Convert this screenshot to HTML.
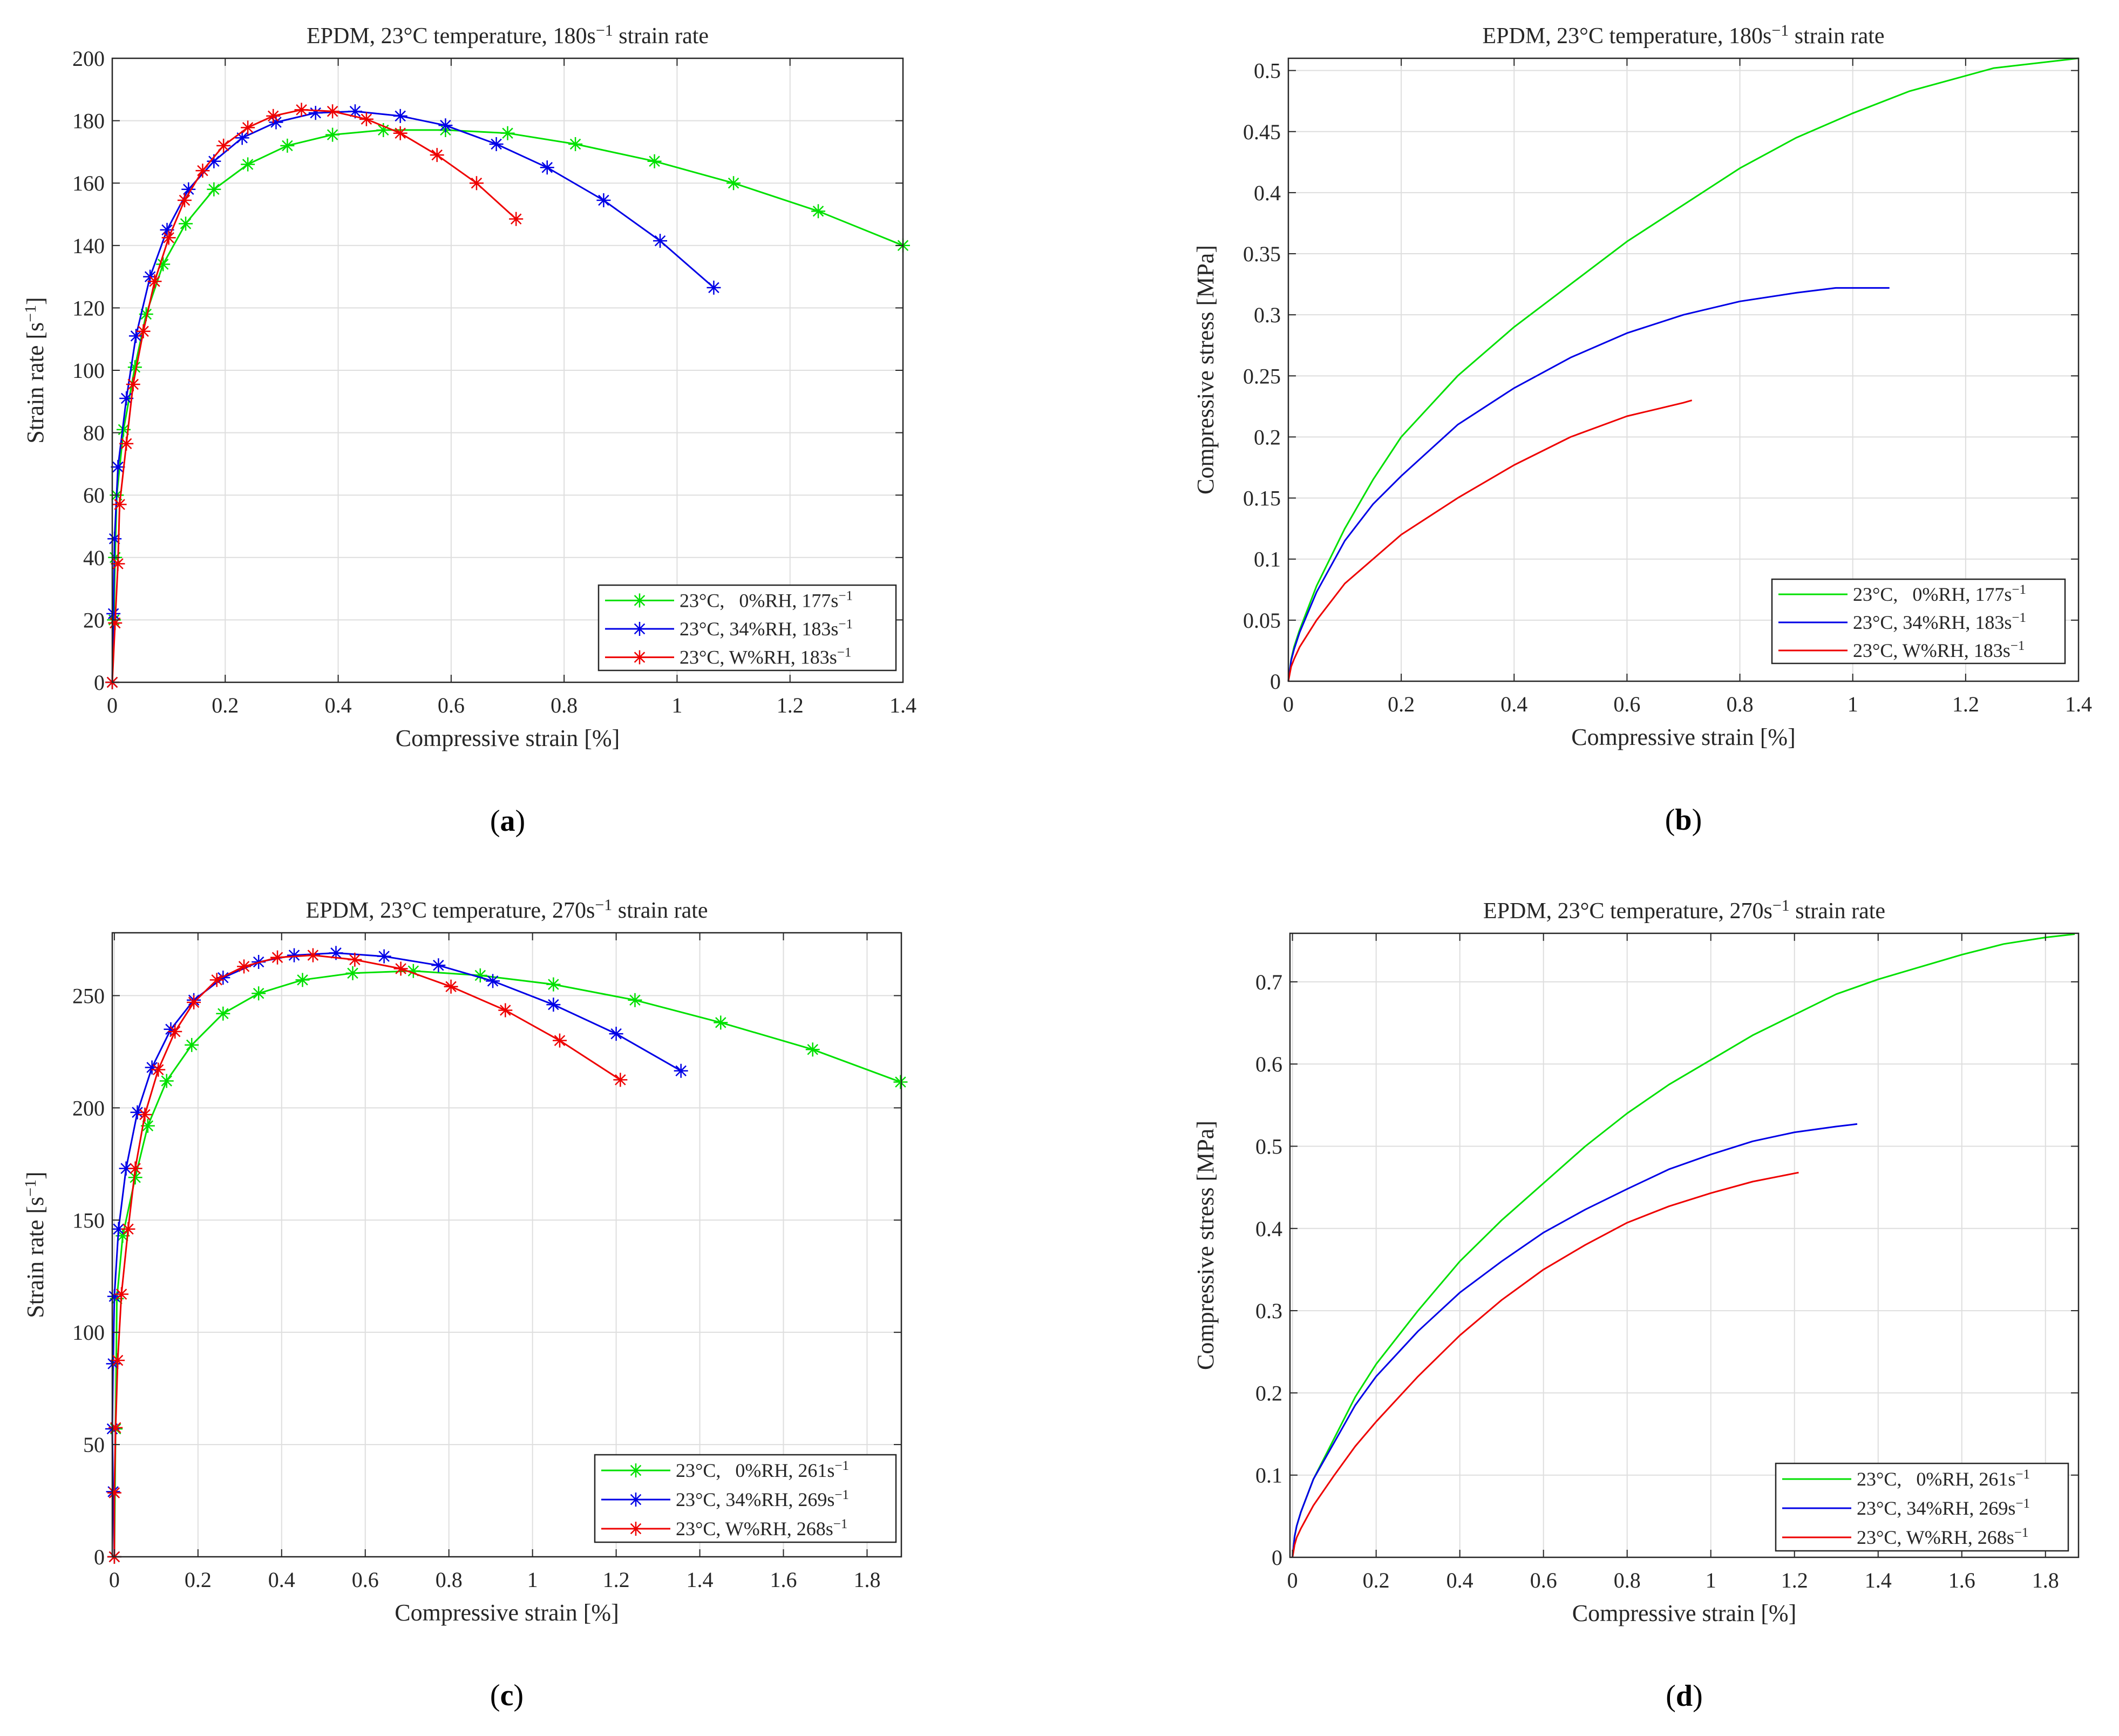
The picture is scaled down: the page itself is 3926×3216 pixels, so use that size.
<!DOCTYPE html>
<html><head><meta charset="utf-8"><style>
html,body{margin:0;padding:0;background:#fff;}
svg{display:block;font-family:"Liberation Serif",serif;}
</style></head><body>
<svg id="fig" width="3926" height="3216" viewBox="0 0 3926 3216" xmlns="http://www.w3.org/2000/svg"></svg>
<script>
// ---------- Data ----------
const aGreenX=[0,0.003,0.005,0.008,0.02,0.04,0.06,0.09,0.13,0.18,0.24,0.31,0.39,0.48,0.59,0.7,0.82,0.96,1.10,1.25,1.4];
const aGreenY=[0,20,40,60,81,101,118,134,147,158,166,172,175.5,177,177,176,172.5,167,160,151,140];
const aBlueX=[0,0.002,0.004,0.01,0.025,0.042,0.067,0.097,0.135,0.18,0.23,0.29,0.36,0.43,0.51,0.59,0.68,0.77,0.87,0.97,1.065];
const aBlueY=[0,22,46,69,91,111,130,145,158,167,174.5,179.5,182.5,183,181.5,178.5,172.5,165,154.5,141.5,126.5];
const aRedX=[0,0.005,0.01,0.013,0.025,0.037,0.055,0.075,0.1,0.128,0.16,0.197,0.24,0.285,0.335,0.39,0.45,0.51,0.575,0.645,0.715];
const aRedY=[0,19,38,57,76.5,95.5,112.5,128.5,142.5,154.5,164,172,177.8,181.5,183.5,183,180.5,176,169,160,148.5];
const bGreenX=[0,0.005,0.01,0.02,0.05,0.1,0.15,0.2,0.3,0.4,0.5,0.6,0.7,0.8,0.9,1.0,1.1,1.25,1.4];
const bGreenY=[0,0.018,0.028,0.042,0.078,0.125,0.165,0.2,0.25,0.29,0.325,0.36,0.39,0.42,0.445,0.465,0.483,0.502,0.51];
const bBlueX=[0,0.005,0.01,0.02,0.05,0.1,0.15,0.2,0.3,0.4,0.5,0.6,0.7,0.8,0.9,0.97,1.065];
const bBlueY=[0,0.017,0.026,0.04,0.073,0.115,0.145,0.168,0.21,0.24,0.265,0.285,0.3,0.311,0.318,0.322,0.322];
const bRedX=[0,0.005,0.01,0.02,0.05,0.1,0.15,0.2,0.3,0.4,0.5,0.6,0.7,0.715];
const bRedY=[0,0.012,0.018,0.028,0.05,0.08,0.1,0.12,0.15,0.177,0.2,0.217,0.228,0.23];
const cGreenX=[0,0.003,0.006,0.02,0.05,0.08,0.125,0.185,0.26,0.345,0.45,0.57,0.715,0.875,1.05,1.245,1.45,1.67,1.88];
const cGreenY=[0,57,115,143,169,192,212,228,242,251,257,260,261,259,255,248,238,226,211.5];
const cBlueX=[0,-0.003,-0.005,-0.003,0,0.01,0.028,0.055,0.09,0.135,0.19,0.26,0.345,0.43,0.53,0.645,0.775,0.905,1.05,1.2,1.355];
const cBlueY=[0,29,57,86,116,146,173,198,218,235,248,258,265,268,269,267.5,263.5,256.5,246,233,216.5];
const cRedX=[0,0,0.003,0.008,0.017,0.033,0.05,0.073,0.105,0.145,0.19,0.245,0.31,0.39,0.475,0.575,0.685,0.805,0.935,1.065,1.21];
const cRedY=[0,28.5,57.5,87.5,117,146,173,197,217,234,247,257,263,267,268,266,262,254,243.5,230,212.5];
const dGreenX=[0,0.005,0.01,0.02,0.05,0.1,0.15,0.2,0.3,0.4,0.5,0.6,0.7,0.8,0.9,1.0,1.1,1.2,1.3,1.4,1.5,1.6,1.7,1.8,1.87];
const dGreenY=[0,0.025,0.038,0.055,0.095,0.145,0.195,0.235,0.3,0.36,0.41,0.455,0.5,0.54,0.575,0.605,0.635,0.66,0.685,0.703,0.718,0.733,0.746,0.754,0.758];
const dBlueX=[0,0.005,0.01,0.02,0.05,0.1,0.15,0.2,0.3,0.4,0.5,0.6,0.7,0.8,0.9,1.0,1.1,1.2,1.3,1.35];
const dBlueY=[0,0.025,0.038,0.055,0.095,0.14,0.185,0.22,0.275,0.322,0.36,0.395,0.423,0.448,0.472,0.49,0.506,0.517,0.524,0.527];
const dRedX=[0,0.005,0.01,0.02,0.05,0.1,0.15,0.2,0.3,0.4,0.5,0.6,0.7,0.8,0.9,1.0,1.1,1.2,1.21];
const dRedY=[0,0.015,0.024,0.035,0.063,0.1,0.135,0.165,0.22,0.27,0.313,0.35,0.38,0.407,0.427,0.443,0.457,0.467,0.468];
const xTicksA=[0,0.2,0.4,0.6,0.8,1,1.2,1.4];
const yTicksA=[0,20,40,60,80,100,120,140,160,180,200];
const yTicksB=[0,0.05,0.1,0.15,0.2,0.25,0.3,0.35,0.4,0.45,0.5];
const xTicksC=[0,0.2,0.4,0.6,0.8,1,1.2,1.4,1.6,1.8];
const yTicksC=[0,50,100,150,200,250];
const yTicksD=[0,0.1,0.2,0.3,0.4,0.5,0.6,0.7];
const legendA=["0%RH, 177","34%RH, 183","W%RH, 183"];
const legendC=["0%RH, 261","34%RH, 269","W%RH, 268"];

const NS="http://www.w3.org/2000/svg";
const fig=document.getElementById('fig');
function mk(tag,attrs,parent){const e=document.createElementNS(NS,tag);for(const k in attrs)e.setAttribute(k,attrs[k]);(parent||fig).appendChild(e);return e;}
const COLORS=["#00e000","#0000e6","#ee0000"];
const SNAMES=["green","blue","red"];

function panel(p){
  const g=mk('g',{});
  
  
  const sx=v=>p.L+(v-p.x0)/(p.x1-p.x0)*(p.R-p.L);
  const sy=v=>p.B-(v-p.y0)/(p.y1-p.y0)*(p.B-p.T);
  p.xt.forEach(t=>{const l=mk('line',{x1:sx(t),x2:sx(t),y1:p.T,y2:p.B,stroke:'#dedede','stroke-width':2},g);
    });
  p.yt.forEach(t=>{const l=mk('line',{x1:p.L,x2:p.R,y1:sy(t),y2:sy(t),stroke:'#dedede','stroke-width':2},g);
    });
  p.series.forEach((s,i)=>{
    const sg=mk('g',{},g);
    
    
    const d=s[0].map((x,k)=>(k?'L':'M')+sx(x).toFixed(1)+' '+sy(s[1][k]).toFixed(1)).join(' ');
    const pl=mk('path',{d:d,fill:'none',stroke:COLORS[i],'stroke-width':3,'stroke-linejoin':'round'},sg);
    
    if(p.markers){s[0].forEach((x,k)=>{star(sg,sx(x),sy(s[1][k]),COLORS[i]);});}
  });
  const bx=mk('rect',{x:p.L,y:p.T,width:p.R-p.L,height:p.B-p.T,fill:'none',stroke:'#262626','stroke-width':2.5},g);
  
  p.xt.forEach(t=>{
    mk('line',{x1:sx(t),x2:sx(t),y1:p.B,y2:p.B-14,stroke:'#262626','stroke-width':2},g);
    mk('line',{x1:sx(t),x2:sx(t),y1:p.T,y2:p.T+14,stroke:'#262626','stroke-width':2},g);
    const tx=mk('text',{x:sx(t),y:p.B+56,'font-size':40,'text-anchor':'middle',fill:'#262626'},g);
    tx.textContent=String(t);
    
  });
  p.yt.forEach(t=>{
    mk('line',{x1:p.L,x2:p.L+14,y1:sy(t),y2:sy(t),stroke:'#262626','stroke-width':2},g);
    mk('line',{x1:p.R,x2:p.R-14,y1:sy(t),y2:sy(t),stroke:'#262626','stroke-width':2},g);
    const tx=mk('text',{x:p.L-14,y:sy(t)+14,'font-size':40,'text-anchor':'end',fill:'#262626'},g);
    tx.textContent=String(t);
    
  });
  const cx=(p.L+p.R)/2;
  const ti=mk('text',{x:cx,y:p.T-28,'font-size':42,'text-anchor':'middle',fill:'#262626'},g);
  ti.innerHTML='EPDM, 23°C temperature, '+p.rate+'s<tspan dy="-14" font-size="30">−1</tspan><tspan dy="14"> strain rate</tspan>';
  
  const xl=mk('text',{x:cx,y:p.B+118,'font-size':44,'text-anchor':'middle',fill:'#262626'},g);
  xl.textContent='Compressive strain [%]';
  
  const cy=(p.T+p.B)/2;
  const yl=mk('text',{x:0,y:0,'font-size':44,'text-anchor':'middle',fill:'#262626',transform:`translate(${p.ylx},${cy}) rotate(-90)`},g);
  if(p.markers) yl.innerHTML='Strain rate [s<tspan dy="-14" font-size="30">−1</tspan><tspan dy="14">]</tspan>';
  else yl.textContent='Compressive stress [MPa]';
  
  const pl=mk('text',{x:cx,y:p.B+275,'font-size':56,'text-anchor':'middle',fill:'#000'},g);
  pl.innerHTML='(<tspan font-weight="bold">'+p.id+'</tspan>)';
  
  const lg=mk('g',{},g);
  
  mk('rect',{x:p.lx,y:p.ly,width:p.lw,height:p.lh,fill:'#fff',stroke:'#262626','stroke-width':2.5},lg);
  p.leg.forEach((txt,i)=>{
    const yy=p.ly+p.lh*(i+0.5)/3+2;
    const le=mk('g',{},lg);
    
    mk('line',{x1:p.lx+12,x2:p.lx+140,y1:yy,y2:yy,stroke:COLORS[i],'stroke-width':3},le);
    if(p.markers) star(le,p.lx+76,yy,COLORS[i]);
    const parts=txt.split(', ');
    const t=mk('text',{x:p.lx+150,y:yy+12,'font-size':36,fill:'#262626'},le);
    const pre=(i===0)?'23°C,\u00a0\u00a0\u00a0':'23°C, ';
    t.innerHTML=pre+parts[0]+', '+parts[1]+'s<tspan dy="-13" font-size="25">−1</tspan>';
  });
}
function star(par,x,y,c){
  const r=13,d=r*0.72;
  const m=mk('path',{d:`M${x-r} ${y}H${x+r}M${x} ${y-r}V${y+r}M${x-d} ${y-d}L${x+d} ${y+d}M${x-d} ${y+d}L${x+d} ${y-d}`,stroke:c,'stroke-width':2.5,fill:'none'},par);
  
  
}

panel({id:'a',L:208,R:1673,T:108,B:1264,x0:0,x1:1.4,y0:0,y1:200,xt:xTicksA,yt:yTicksA,markers:true,rate:'180',ylx:80,
  series:[[aGreenX,aGreenY],[aBlueX,aBlueY],[aRedX,aRedY]],leg:legendA,lx:1109,ly:1084,lw:551,lh:158});
panel({id:'b',L:2387,R:3851,T:108,B:1262,x0:0,x1:1.4,y0:0,y1:0.51,xt:xTicksA,yt:yTicksB,markers:false,rate:'180',ylx:2248,
  series:[[bGreenX,bGreenY],[bBlueX,bBlueY],[bRedX,bRedY]],leg:legendA,lx:3283,ly:1073,lw:543,lh:156});
panel({id:'c',L:208,R:1670,T:1728,B:2884,x0:-0.005,x1:1.882,y0:0,y1:278,xt:xTicksC,yt:yTicksC,markers:true,rate:'270',ylx:80,
  series:[[cGreenX,cGreenY],[cBlueX,cBlueY],[cRedX,cRedY]],leg:legendC,lx:1102,ly:2695,lw:558,lh:162});
panel({id:'d',L:2390,R:3851,T:1729,B:2885,x0:-0.006,x1:1.879,y0:0,y1:0.759,xt:xTicksC,yt:yTicksD,markers:false,rate:'270',ylx:2248,
  series:[[dGreenX,dGreenY],[dBlueX,dBlueY],[dRedX,dRedY]],leg:legendC,lx:3290,ly:2711,lw:542,lh:162});
</script>
</body></html>
